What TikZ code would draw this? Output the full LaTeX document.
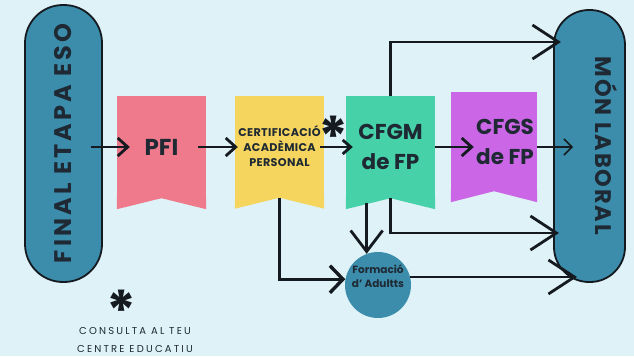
\documentclass[tikz,border=0pt]{standalone}
\usepackage{fontspec}
\usepackage{graphicx}
\setmainfont{Poppins}
\usetikzlibrary{arrows.meta}
\definecolor{skyback}{HTML}{DFF2F7}
\definecolor{pillblue}{HTML}{3C8DAC}
\definecolor{inkline}{HTML}{141A1F}
\definecolor{inktext}{HTML}{1E2933}
\definecolor{pfipink}{HTML}{EE7A8C}
\definecolor{certyellow}{HTML}{F5D55E}
\definecolor{cfgmgreen}{HTML}{46D1A9}
\definecolor{cfgsviolet}{HTML}{CB67E7}
\newcommand{\bigast}{\raisebox{-31.5pt}[11pt][11pt]{*}}
\tikzset{
    pill/.style={draw=inkline, line width=1.8pt, fill=pillblue, inner sep=0pt, text=inktext},
    banner/.style={fill=#1, minimum width=89pt, minimum height=102pt, inner sep=0pt, align=center, text=inktext,
        append after command={\pgfextra{\let\bnode\tikzlastnode
            \fill[#1] ([yshift=1pt]\bnode.south west) -- ([yshift=-11pt]\bnode.south west) -- (\bnode.south)
            -- ([yshift=-11pt]\bnode.south east) -- ([yshift=1pt]\bnode.south east) -- cycle;}}},
    asterisk/.style={text=inkline, inner sep=0pt, font=\bfseries\fontsize{56}{56}\selectfont},
    flow/.style={draw=inkline, line width=2.8pt, -{Straight Barb[length=10pt,width=18pt]}},
    bigflow/.style={flow, -{Straight Barb[length=26pt,width=34pt]}},
    midflow/.style={flow, -{Straight Barb[length=21pt,width=32pt]}},
    thinflow/.style={flow, line width=1.6pt, -{Straight Barb[length=8pt,width=16pt]}},
}

\begin{document}
\begin{tikzpicture}[x=1pt, y=-1pt]
    \fill[skyback] (0,0) rectangle (634,356);
    \useasboundingbox (0,0) rectangle (634,356);

    \node[pill, minimum width=77pt, minimum height=277pt, rounded corners=38pt,
        font=\bfseries\addfontfeature{LetterSpace=13}\fontsize{24}{26}\selectfont] (eso) at (63.5,143.5)
        {\rotatebox{90}{FINAL ETAPA ESO}\hspace{8pt}};
    \node[pill, minimum width=71pt, minimum height=272pt, rounded corners=35pt,
        font=\bfseries\addfontfeature{LetterSpace=8}\fontsize{22.5}{24}\selectfont] (mon) at (589.5,146)
        {\hspace{34pt}\rotatebox{-90}{MÓN LABORAL}};

    \node[banner=pfipink, font=\bfseries\fontsize{23}{26}\selectfont] (pfi) at (161.5,147) {PFI};
    \node[banner=certyellow, font=\bfseries\addfontfeature{LetterSpace=3}\fontsize{11.2}{15}\selectfont] (cert) at (279.5,146.5)
        {CERTIFICACIÓ\\ACADÈMICA\\PERSONAL};
    \node[banner=cfgmgreen, font=\bfseries\fontsize{21.5}{30}\selectfont] (cfgm) at (390.5,147) {CFGM\\de FP};
    \node[banner=cfgsviolet, minimum width=86pt, minimum height=99pt, font=\bfseries\fontsize{21.5}{30}\selectfont]
        (cfgs) at (494,141.5) {\hspace*{22pt}CFGS\\\hspace*{22pt}de FP};

    \node[circle, fill=pillblue, minimum size=66pt, inner sep=0pt, align=center, text depth=18pt, text=inktext,
        font=\bfseries\fontsize{10.5}{14}\selectfont] (adults) at (378,285) {Formació\\d' Adultts};

    \node[asterisk] (astcfgm) at (333,126) {\bigast};
    \node[asterisk] (astnote) at (121,300) {\bigast};
    \node[text=inktext, align=center, font=\addfontfeature{LetterSpace=22}\fontsize{10}{18}\selectfont]
        (note) at (135,340) {CONSULTA AL TEU\\CENTRE EDUCATIU};

    \coordinate (montop) at (561,42);
    \coordinate (monlow) at (559,233);
    \coordinate (monbot) at (577,277);

    \draw[flow] ([xshift=-12pt]eso.east |- pfi.center) -- ([xshift=13pt]pfi.west);
    \draw[flow] ([xshift=-8pt]pfi.east) -- ([xshift=3pt]cert.west |- pfi.center);
    \draw[flow, -{Straight Barb[length=8pt,width=14pt]}] ([xshift=-4pt]cert.east |- cfgm.center) -- ([xshift=7pt]cfgm.west);
    \draw[flow] (cfgm.east) -- ([xshift=23pt]cfgs.west |- cfgm.center);
    \draw[thinflow] (cfgs.east |- cfgm.center) -- ([xshift=20pt]mon.west |- cfgm.center);
    \draw[bigflow] (cfgm.north) |- (montop);
    \draw[bigflow] (cfgm.south) |- (monlow);
    \draw[midflow] ([yshift=-5pt]cfgm.south -| adults.110) -- (adults.110);
    \draw[flow, line width=3.4pt, -{Straight Barb[length=13pt,width=27pt]}] (cert.south) |- (adults.170);
    \draw[bigflow] (adults.14) -- (adults.14 -| monbot);
\end{tikzpicture}
\end{document}
